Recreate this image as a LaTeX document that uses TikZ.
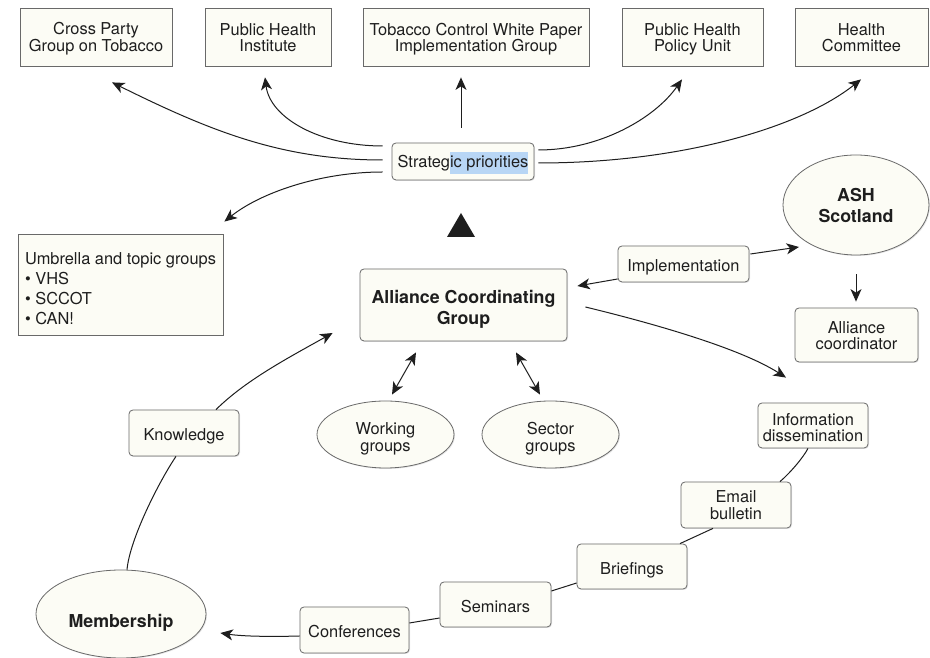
\documentclass[tikz,border=0pt]{standalone}
\usepackage{fontspec}
\setmainfont{TeX Gyre Heros}
\usetikzlibrary{arrows.meta,shadows,shapes.geometric}
\definecolor{boxfill}{RGB}{252,252,245}
\definecolor{boxline}{RGB}{105,105,105}
\definecolor{ink}{RGB}{30,30,30}
\definecolor{selblue}{RGB}{184,214,245}
\setlength{\fboxsep}{0pt}
\newcommand{\topstrut}[1]{\rule{0pt}{#1}}
\newcommand{\botstrut}{\rule[-3.5pt]{0pt}{0pt}}
\begin{document}
\begin{tikzpicture}[x=1pt,y=1pt,
  base/.style={draw=boxline, fill=boxfill, line width=0.8pt, text=ink, inner sep=0pt, align=center,
    font=\fontsize{16.4}{16.5}\selectfont,
    execute at begin node=\topstrut{19pt}, execute at end node=\botstrut,
    drop shadow={opacity=0.2, shadow xshift=1pt, shadow yshift=-1pt}},
  sqbox/.style={base, rectangle},
  rbox/.style={base, rectangle, rounded corners=4pt},
  oval/.style={base, ellipse},
  lift/.style={execute at begin node=\topstrut{#1}},
  boldtxt/.style={font=\fontsize{17.8}{21}\selectfont\bfseries, execute at begin node=\topstrut{25pt}},
  conn/.style={draw=ink, line width=1pt},
  arr/.style={conn, -{Stealth[length=12.5pt,width=11pt,inset=3.5pt]}},
  darr/.style={conn, {Stealth[length=12.5pt,width=11pt,inset=3.5pt]}-{Stealth[length=12.5pt,width=11pt,inset=3.5pt]}}
]
\useasboundingbox (0,0) rectangle (930,658);
\fill[white] (0,0) rectangle (930,658);

% top row
\node[sqbox, lift=32pt, minimum width=152pt, minimum height=58pt] (cp) at (96,621) {Cross Party\\Group on Tobacco};
\node[sqbox, lift=33.5pt, minimum width=126pt, minimum height=58pt] (phi) at (268,621) {Public Health\\Institute};
\node[sqbox, lift=33pt, minimum width=226pt, minimum height=58pt] (tcw) at (476,621) {Tobacco Control White Paper\\Implementation Group};
\node[sqbox, lift=33pt, minimum width=141pt, minimum height=58pt] (phpu) at (692.5,621) {Public Health\\Policy Unit};
\node[sqbox, lift=33.5pt, minimum width=133pt, minimum height=58pt] (hc) at (861.5,621) {Health\\Committee};

% strategic priorities
\node[rbox, minimum width=142pt, minimum height=37pt] (sp) at (463,496.5) {Strateg\colorbox{selblue}{\rule[-6pt]{0pt}{22pt}ic priorities}};

% triangle
\fill[ink] (461,445) -- (447,421) -- (475,421) -- cycle;

% umbrella
\node[sqbox, lift=84pt, minimum width=205pt, minimum height=101pt, align=left, font=\fontsize{16.4}{20}\selectfont] (umb) at (120.5,373.5)
  {Umbrella and topic groups\\\textbullet\ VHS\\\textbullet\ SCCOT\\\textbullet\ CAN!};

% centre
\node[rbox, boldtxt, lift=42pt, minimum width=207pt, minimum height=72pt] (acg) at (463.5,353) {Alliance Coordinating\\Group};
\node[rbox, minimum width=131pt, minimum height=36pt] (impl) at (683.5,394) {Implementation};
\node[oval, boldtxt, lift=38pt, minimum width=146pt, minimum height=100pt] (ash) at (856,453) {ASH\\Scotland};
\node[rbox, lift=33.5pt, minimum width=123pt, minimum height=54pt] (ac) at (856.5,323) {Alliance\\coordinator};
\node[rbox, lift=36.5pt, minimum width=110pt, minimum height=45pt] (info) at (813,232.5) {Information\\dissemination};
\node[oval, lift=37.5pt, minimum width=137pt, minimum height=67pt] (wg) at (385.5,223.5) {Working\\groups};
\node[oval, lift=37.5pt, minimum width=137pt, minimum height=67pt] (sg) at (550.5,223.5) {Sector\\groups};
\node[rbox, minimum width=110pt, minimum height=46pt] (know) at (184,225) {Knowledge};

% bottom chain
\node[oval, boldtxt, minimum width=170pt, minimum height=88pt] (mem) at (121,44) {\raisebox{-5pt}{Membership}};
\node[rbox, minimum width=109pt, minimum height=46pt] (conf) at (354.5,28) {Conferences};
\node[rbox, minimum width=111pt, minimum height=45pt] (sem) at (495.5,53.5) {Seminars};
\node[rbox, minimum width=110pt, minimum height=45pt] (brief) at (632,91.5) {Briefings};
\node[rbox, lift=32.5pt, minimum width=110pt, minimum height=46pt] (email) at (736,153) {Email\\bulletin};

% connectors from strategic priorities
\draw[arr] ([shift={(-9pt,1.5pt)}]sp.west) .. controls (283,498) and (212,526) .. ([shift={(16pt,-16pt)}]cp.south);
\draw[arr] ([shift={(-9pt,15.5pt)}]sp.west) .. controls (320,512) and (270,540) .. ([shift={(-3pt,-11pt)}]phi.south);
\draw[arr] ([shift={(-2pt,15pt)}]sp.north) -- ([shift={(-15pt,-11pt)}]tcw.south);
\draw[arr] ([shift={(4pt,11.5pt)}]sp.east) .. controls (600,508) and (655,540) .. ([shift={(-10.5pt,-13pt)}]phpu.south);
\draw[arr] ([shift={(4pt,-1.5pt)}]sp.east) .. controls (680,495) and (800,530) .. ([shift={(-0.5pt,-13pt)}]hc.south);
\draw[arr] ([shift={(-9pt,-10.5pt)}]sp.west) .. controls (320,486) and (260,465) .. ([shift={(1pt,12pt)}]umb.north east);

% centre connectors
\draw[arr] ([shift={(0pt,-15pt)}]impl.west) -- ([shift={(10pt,19pt)}]acg.east);
\draw[arr] ([shift={(1pt,10pt)}]impl.east) -- ([shift={(-57pt,-42pt)}]ash.center);
\draw[arr] ([shift={(0pt,-19pt)}]ash.south) -- ([shift={(-0.5pt,6pt)}]ac.north);
\draw[arr] ([shift={(18pt,-2pt)}]acg.east) .. controls (635,339) and (736,312.5) .. ([shift={(-27pt,25pt)}]info.north);
\draw[darr] ([shift={(-47.5pt,-11pt)}]acg.south) -- ([shift={(6.5pt,6pt)}]wg.north);
\draw[darr] ([shift={(52.5pt,-11pt)}]acg.south) -- ([shift={(-10.5pt,6pt)}]sg.north);
\draw[arr] ([shift={(32pt,0pt)}]know.north) .. controls (246,278) and (288,300) .. ([shift={(-27pt,-28pt)}]acg.west);

% bottom chain connectors
\draw[conn] ([shift={(6pt,0pt)}]mem.north) .. controls (130,120) and (160,178) .. ([shift={(-8pt,0pt)}]know.south);
\draw[arr] ([shift={(0pt,-6pt)}]conf.west) .. controls (265,21) and (240,22) .. ([shift={(14pt,-19pt)}]mem.east);
\draw[conn] ([shift={(0pt,-13.5pt)}]sem.west) -- ([shift={(0pt,7pt)}]conf.east);
\draw[conn] ([shift={(0pt,-16.5pt)}]brief.west) -- ([shift={(0pt,13.5pt)}]sem.east);
\draw[conn] ([shift={(-23pt,0pt)}]email.south) -- ([shift={(48pt,0pt)}]brief.north);
\draw[conn] ([shift={(-5pt,0pt)}]info.south) .. controls (803,200) and (790,185) .. ([shift={(44pt,0pt)}]email.north);
\end{tikzpicture}
\end{document}
